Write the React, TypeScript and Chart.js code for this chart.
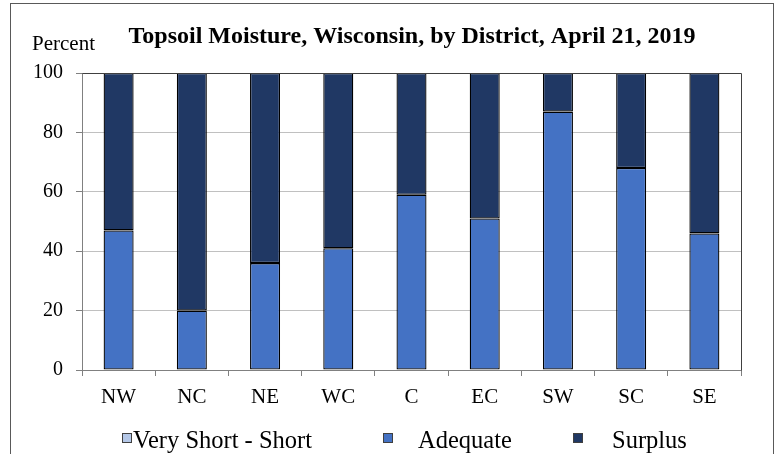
import React, { useEffect, useRef } from "react";
import { Chart, registerables } from "chart.js";

Chart.register(...registerables);

const districts = ["NW", "NC", "NE", "WC", "C", "EC", "SW", "SC", "SE"];
const veryShortShort = [0, 0, 0, 0, 0, 0, 0, 0, 0];
const adequate = [47, 20, 36, 41, 59, 51, 87, 68, 46];
const surplus = [53, 80, 64, 59, 41, 49, 13, 32, 54];
const seriesNames = ["Very Short - Short", "Adequate", "Surplus"];
const titleText = "Topsoil Moisture, Wisconsin, by District, April 21, 2019";
const unitText = "Percent";

const SERIF = '"Liberation Serif", "Times New Roman", serif';

const decorPlugin = {
  id: "decor",
  beforeDraw(chart: any) {
    const ctx = chart.ctx;
    ctx.save();
    ctx.strokeStyle = "#595959";
    ctx.lineWidth = 1;
    ctx.strokeRect(10.5, 3.5, 763, 520);
    ctx.restore();
  },
  afterDraw(chart: any) {
    const ctx = chart.ctx;
    const a = chart.chartArea;
    ctx.save();
    // plot area border (top and right)
    ctx.strokeStyle = "#404040";
    ctx.lineWidth = 1;
    ctx.beginPath();
    ctx.moveTo(Math.round(a.left) + 0.5, Math.round(a.top) + 0.5);
    ctx.lineTo(Math.round(a.right) + 0.5, Math.round(a.top) + 0.5);
    ctx.lineTo(Math.round(a.right) + 0.5, Math.round(a.bottom) + 0.5);
    ctx.stroke();

    // title
    ctx.fillStyle = "#000";
    ctx.font = `bold 24px ${SERIF}`;
    ctx.textAlign = "center";
    ctx.textBaseline = "alphabetic";
    ctx.fillText(titleText, (a.left + a.right) / 2 + 0.5, 43);

    // unit label
    ctx.font = `21px ${SERIF}`;
    ctx.textAlign = "left";
    ctx.fillText(unitText, 32, 50);

    // legend
    const boxX = [122, 383, 573];
    const textX = [133, 418, 612];
    ctx.font = `24.5px ${SERIF}`;
    ctx.textBaseline = "alphabetic";
    chart.data.datasets.forEach((ds: any, i: number) => {
      ctx.fillStyle = ds.backgroundColor;
      ctx.fillRect(boxX[i], 433, 10, 10);
      ctx.strokeStyle = "#404040";
      ctx.strokeRect(boxX[i] + 0.5, 433.5, 9, 9);
      ctx.fillStyle = "#000";
      ctx.fillText(ds.label, textX[i], 448);
    });
    ctx.restore();
  },
};

export default function App() {
  const ref = useRef<HTMLCanvasElement | null>(null);

  useEffect(() => {
    if (!ref.current) return;
    const chart = new Chart(ref.current, {
      type: "bar",
      data: {
        labels: districts,
        datasets: [
          {
            label: seriesNames[0],
            data: veryShortShort,
            backgroundColor: "#B4C7E7",
            borderColor: "#000",
            borderWidth: 0,
          },
          {
            label: seriesNames[1],
            data: adequate,
            backgroundColor: "#4472C4",
            borderColor: "#000",
            borderWidth: 1.3,
            borderSkipped: false,
          },
          {
            label: seriesNames[2],
            data: surplus,
            backgroundColor: "#203864",
            borderColor: "#000",
            borderWidth: 1.3,
            borderSkipped: false,
          },
        ],
      },
      options: {
        animation: false,
        responsive: false,
        devicePixelRatio: 1,
        layout: { padding: { left: 10, right: 43, top: 73, bottom: 45 } },
        datasets: {
          bar: { barPercentage: 0.41, categoryPercentage: 1 },
        },
        plugins: {
          legend: { display: false },
          title: { display: false },
          tooltip: { enabled: false },
        },
        scales: {
          x: {
            stacked: true,
            offset: true,
            grid: {
              offset: true,
              drawOnChartArea: false,
              drawTicks: true,
              tickLength: 6,
              tickColor: "#808080",
            },
            border: { color: "#808080" },
            ticks: {
              color: "#000",
              padding: 9,
              font: { family: SERIF, size: 21 },
            },
            afterFit: (s: any) => {
              s.height = 39;
            },
          },
          y: {
            stacked: true,
            min: 0,
            max: 100,
            grid: {
              color: "#c0c0c0",
              tickColor: "#808080",
              tickLength: 6,
            },
            border: { color: "#808080" },
            ticks: {
              stepSize: 20,
              color: "#000",
              padding: 13,
              font: { family: SERIF, size: 20 },
            },
            afterFit: (s: any) => {
              s.width = 72;
            },
          },
        },
      },
      plugins: [decorPlugin],
    });
    return () => chart.destroy();
  }, []);

  return (
    <div
      style={{
        position: "fixed",
        left: 0,
        top: 0,
        width: 784,
        height: 454,
        overflow: "hidden",
        background: "#fff",
      }}
    >
      <canvas ref={ref} width={784} height={454} style={{ display: "block" }} />
    </div>
  );
}
